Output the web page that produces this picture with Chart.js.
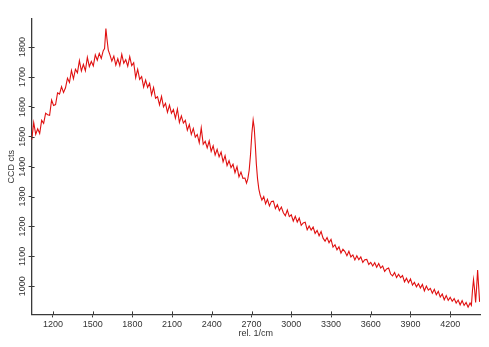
<!DOCTYPE html>
<html>
<head>
<meta charset="utf-8">
<script src="https://cdn.jsdelivr.net/npm/chart.js@4"></script>
<style>
  html, body { margin: 0; padding: 0; background: #fff; }
  .wrap { width: 489px; height: 347px; }
</style>
</head>
<body>
<div class="wrap"><canvas id="chart" width="489" height="347"></canvas></div>
<script>
// Raman shift (rel. 1/cm)
const shift = [
  1040,1055,1070,1085,1100,1115,1130,1145,1160,1175,
  1190,1205,1220,1235,1250,1265,1280,1295,1310,1325,
  1340,1355,1370,1385,1400,1415,1430,1445,1460,1475,
  1490,1505,1520,1535,1550,1565,1580,1590,1600,1608,
  1618,1630,1645,1660,1675,1690,1705,1720,1735,1750,
  1765,1780,1795,1810,1825,1840,1855,1870,1885,1900,
  1915,1930,1945,1960,1975,1990,2005,2020,2035,2050,
  2065,2080,2095,2110,2125,2140,2155,2170,2185,2200,
  2215,2230,2245,2260,2275,2290,2305,2320,2335,2350,
  2365,2380,2395,2410,2425,2440,2455,2470,2485,2500,
  2515,2530,2545,2560,2575,2590,2605,2620,2635,2650,
  2662,2672,2682,2692,2702,2712,2720,2728,2736,2745,
  2755,2765,2778,2792,2806,2820,2835,2850,2865,2880,
  2895,2910,2925,2940,2955,2970,2985,3000,3015,3030,
  3045,3060,3075,3090,3105,3120,3135,3150,3165,3180,
  3195,3210,3225,3240,3255,3270,3285,3300,3315,3330,
  3345,3360,3375,3390,3405,3420,3435,3450,3465,3480,
  3495,3510,3525,3540,3555,3570,3585,3600,3615,3630,
  3645,3660,3675,3690,3705,3720,3735,3750,3765,3780,
  3795,3810,3825,3840,3855,3870,3885,3900,3915,3930,
  3945,3960,3975,3990,4005,4020,4035,4050,4065,4080,
  4095,4110,4125,4140,4155,4170,4185,4200,4215,4230,
  4245,4260,4275,4290,4305,4320,4335,4350,4360,4368,
  4376,4384,4392,4400,4407,4414,4422
];
// CCD counts
const counts = [
  1490,1547,1508,1527,1511,1555,1545,1579,1574,1572,
  1623,1605,1608,1647,1643,1668,1648,1664,1696,1682,
  1722,1694,1726,1714,1755,1720,1742,1721,1766,1735,
  1752,1737,1774,1756,1779,1762,1788,1795,1862,1828,
  1790,1775,1753,1770,1740,1761,1738,1776,1746,1758,
  1736,1768,1738,1748,1698,1726,1692,1701,1666,1690,
  1665,1679,1640,1665,1629,1634,1607,1635,1600,1612,
  1582,1606,1579,1591,1562,1593,1548,1570,1546,1555,
  1522,1541,1508,1528,1499,1508,1480,1530,1475,1485,
  1463,1486,1451,1470,1439,1458,1433,1449,1416,1437,
  1404,1420,1397,1408,1380,1400,1366,1382,1361,1362,
  1345,1360,1388,1440,1510,1556,1530,1475,1410,1360,
  1325,1305,1288,1300,1276,1291,1269,1284,1285,1260,
  1273,1253,1265,1246,1236,1255,1233,1239,1218,1234,
  1215,1228,1204,1212,1214,1189,1202,1188,1198,1177,
  1187,1169,1183,1161,1151,1163,1146,1157,1131,1139,
  1122,1132,1111,1124,1116,1102,1117,1098,1105,1088,
  1102,1089,1098,1080,1089,1090,1073,1080,1068,1079,
  1064,1076,1061,1068,1050,1058,1061,1041,1035,1046,
  1029,1040,1029,1036,1015,1027,1012,1025,1004,1013,
  998,1009,994,1006,985,1001,987,993,977,990,
  972,983,964,974,955,969,953,963,950,959,
  944,954,938,952,936,946,930,944,936,985,
  1022,990,946,1000,1054,1005,948
];
const xTicks = [1200, 1500, 1800, 2100, 2400, 2700, 3000, 3300, 3600, 3900, 4200];
const yTicks = [1000, 1100, 1200, 1300, 1400, 1500, 1600, 1700, 1800];

const points = shift.map((s, i) => ({ x: s, y: counts[i] }));

const axisColor = '#3a3a3a';
const tickFont = { family: 'Liberation Sans, Arial, sans-serif', size: 9 };

// little tick stubs inside the plot, the reference ticks cross the axis
const innerTicks = {
  id: 'innerTicks',
  afterDraw(chart) {
    const c = chart.ctx, x = chart.scales.x, y = chart.scales.y;
    c.save();
    c.strokeStyle = axisColor;
    c.lineWidth = 1;
    c.beginPath();
    xTicks.forEach(v => {
      const px = Math.round(x.getPixelForValue(v)) + 0.5;
      c.moveTo(px, y.bottom);
      c.lineTo(px, y.bottom - 3);
    });
    yTicks.forEach(v => {
      const py = Math.round(y.getPixelForValue(v)) + 0.5;
      c.moveTo(x.left, py);
      c.lineTo(x.left + 3, py);
    });
    c.stroke();
    c.restore();
  }
};

new Chart(document.getElementById('chart').getContext('2d'), {
  type: 'line',
  data: {
    datasets: [{
      data: points,
      borderColor: '#e01010',
      borderWidth: 1.1,
      pointRadius: 0,
      tension: 0,
      fill: false
    }]
  },
  options: {
    responsive: false,
    animation: false,
    layout: { padding: { top: 19, right: 9, left: 0, bottom: 4 } },
    plugins: { legend: { display: false }, tooltip: { enabled: false } },
    scales: {
      x: {
        type: 'linear',
        min: 1039,
        max: 4425,
        afterBuildTicks: s => { s.ticks = xTicks.map(v => ({ value: v })); },
        ticks: { font: tickFont, color: '#333', padding: 2, maxRotation: 0, callback: v => String(v) },
        grid: { drawOnChartArea: false, tickLength: 3, color: axisColor },
        border: { color: axisColor, width: 1.3 },
        title: { display: true, text: 'rel. 1/cm', font: tickFont, color: '#333', padding: { top: -4, bottom: 4 } }
      },
      y: {
        min: 906,
        max: 1894,
        afterBuildTicks: s => { s.ticks = yTicks.map(v => ({ value: v })); },
        ticks: { font: tickFont, color: '#333', padding: -4, minRotation: 90, maxRotation: 90, crossAlign: 'center', callback: v => String(v) },
        grid: { drawOnChartArea: false, tickLength: 3, color: axisColor },
        border: { color: axisColor, width: 1.3 },
        title: { display: true, text: 'CCD cts', font: tickFont, color: '#333', padding: { top: 6, bottom: 9 } }
      }
    }
  },
  plugins: [innerTicks]
});
</script>
</body>
</html>
